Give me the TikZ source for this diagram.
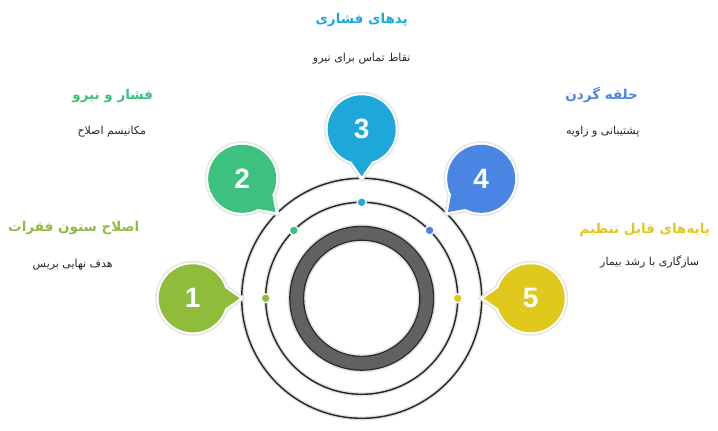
\documentclass[tikz,border=0pt]{standalone}
\usepackage{fontspec}
\usepackage{xcolor}
\usepackage{tikz}
\usetikzlibrary{positioning}
\setmainfont{Liberation Sans}
\newfontfamily\fafont[Script=Arabic]{DejaVu Sans}
\TeXXeTstate=1
\definecolor{cone}{HTML}{8FBC3B}
\definecolor{ctwo}{HTML}{3CC17F}
\definecolor{cthree}{HTML}{1EA8DA}
\definecolor{cfour}{HTML}{4A85E3}
\definecolor{cfive}{HTML}{E1C81C}

\tikzset{
	ring/.style={draw=black!85, line width=1.4pt, preaction={draw=black!12, line width=4pt}},
	num/.style={text=white, font={\fontsize{28}{28}\selectfont\bfseries}},
	title/.style={font={\fafont\bfseries\fontsize{13.5}{15}\selectfont}},
	sub/.style={font={\fafont\fontsize{11}{13}\selectfont}, text=black!85},
	dot/.style={circle, inner sep=0pt, minimum size=9pt, draw=white, line width=1.2pt},
	bubble/.style={fill=#1, line join=round, preaction={draw=black!10, line width=7pt}, preaction={draw=white, line width=4pt}}
}

\begin{document}
\begin{tikzpicture}[x=1pt,y=1pt]
		\useasboundingbox (-361.7,-132.7) rectangle (356.3,298.3);
		% rings
		\draw[ring] (0,0) circle (120);
		\draw[ring] (0,0) circle (96);
		\draw[black!12, line width=18pt] (0,0) circle (65);
		\draw[black!85, line width=15pt] (0,0) circle (65);
		\draw[black!62, line width=12.5pt] (0,0) circle (65);
		% dots
		\node[dot, fill=cone] (d1) at (180:96) {};
		\node[dot, fill=ctwo] (d2) at (135:96) {};
		\node[dot, fill=cthree] (d3) at (90:96) {};
		\node[dot, fill=cfour] (d4) at (45:96) {};
		\node[dot, fill=cfive] (d5) at (0:96) {};
		% bubbles
		\begin{scope}[rotate=180]
			\path[bubble=cone] (169,0) circle (34) (137,10.5) -- (122,0) -- (137,-10.5) -- cycle;
		\end{scope}
		\begin{scope}[rotate=135]
			\path[bubble=ctwo] (169,0) circle (34) (137,10.5) -- (122,0) -- (137,-10.5) -- cycle;
		\end{scope}
		\begin{scope}[rotate=90]
			\path[bubble=cthree] (169,0) circle (34) (137,10.5) -- (122,0) -- (137,-10.5) -- cycle;
		\end{scope}
		\begin{scope}[rotate=45]
			\path[bubble=cfour] (169,0) circle (34) (137,10.5) -- (122,0) -- (137,-10.5) -- cycle;
		\end{scope}
		\path[bubble=cfive] (169,0) circle (34) (137,10.5) -- (122,0) -- (137,-10.5) -- cycle;
		\node[num] (n1) at (180:169) {1};
		\node[num] (n2) at (135:169) {2};
		\node[num] (n3) at (90:169) {3};
		\node[num] (n4) at (45:169) {4};
		\node[num] (n5) at (0:169) {5};
		% labels
		\node[title, text=cone] (t1) at (-288,70) {\beginR اصلاح ستون فقرات\endR};
		\node[sub] (s1) at (-289,34) {\beginR هدف نهایی بریس\endR};
		\node[title, text=ctwo] (t2) at (-249,202) {\beginR فشار و نیرو\endR};
		\node[sub] (s2) at (-250,167) {\beginR مکانیسم اصلاح\endR};
		\node[title, text=cthree] (t3) at (0,278) {\beginR پدهای فشاری\endR};
		\node[sub] (s3) at (0,240) {\beginR نقاط تماس برای نیرو\endR};
		\node[title, text=cfour] (t4) at (240,203) {\beginR حلقه گردن\endR};
		\node[sub] (s4) at (241,167) {\beginR پشتیبانی و زاویه\endR};
		\node[title, text=cfive] (t5) at (283,68) {\beginR پایه‌های قابل تنظیم\endR};
		\node[sub] (s5) at (288,36) {\beginR سازگاری با رشد بیمار\endR};
	\end{tikzpicture}
\end{document}
